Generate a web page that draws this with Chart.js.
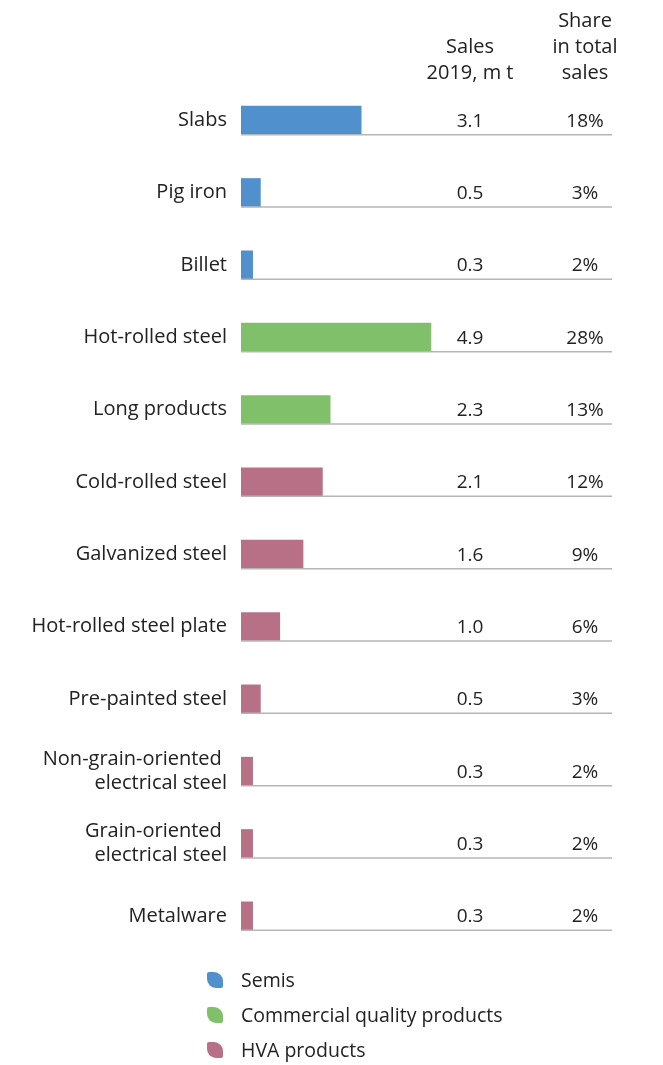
<!DOCTYPE html>
<html>
<head>
<meta charset="utf-8">
<script src="https://cdn.jsdelivr.net/npm/chart.js@4/dist/chart.umd.min.js"></script>
<style>
  body { margin: 0; background: #fff; font-family: "Open Sans", sans-serif; color: #222; }
  #wrap { position: relative; width: 663px; height: 1065px; }
  #chart { position: absolute; left: 0; top: 0; }
  #legend { position: absolute; left: 207px; top: 962px; font-size: 19.5px; }
  .item { height: 35px; display: flex; align-items: center; }
  .mark { width: 16px; height: 16px; border-radius: 2px 9px 2px 9px; margin-right: 18px; }
</style>
</head>
<body>
<div id="wrap">
  <canvas id="chart" width="663" height="978"></canvas>
  <div id="legend"></div>
</div>
<script>
const categories = [
  "Slabs", "Pig iron", "Billet", "Hot-rolled steel", "Long products",
  "Cold-rolled steel", "Galvanized steel", "Hot-rolled steel plate",
  "Pre-painted steel", ["Non-grain-oriented ", "electrical steel"],
  ["Grain-oriented ", "electrical steel"], "Metalware"
];
const sales = [3.1, 0.5, 0.3, 4.9, 2.3, 2.1, 1.6, 1.0, 0.5, 0.3, 0.3, 0.3];
const shares = ["18%", "3%", "2%", "28%", "13%", "12%", "9%", "6%", "3%", "2%", "2%", "2%"];
const groupOf = [0, 0, 0, 1, 1, 2, 2, 2, 2, 2, 2, 2];
const groupNames = ["Semis", "Commercial quality products", "HVA products"];
const groupColors = ["#4f90cd", "#80c06a", "#b87086"];
const salesHeader = ["Sales", "2019, m t"];
const shareHeader = ["Share", "in total", "sales"];

const FONT = '"Open Sans", sans-serif';
const BAR = 28;

// legend
const legend = document.getElementById("legend");
groupNames.forEach((name, i) => {
  const d = document.createElement("div");
  d.className = "item";
  d.innerHTML = '<span class="mark" style="background:' + groupColors[i] + '"></span>' + name;
  legend.appendChild(d);
});

// baseline under each row + value columns + headers
const tablePlugin = {
  id: "table",
  afterDatasetsDraw(chart) {
    const ctx = chart.ctx;
    const area = chart.chartArea;
    const y = chart.scales.y;
    const col1 = 470, col2 = 585;
    ctx.save();
    ctx.strokeStyle = "#b5b5b5";
    ctx.lineWidth = 1.5;
    ctx.fillStyle = "#222";
    ctx.textAlign = "center";
    ctx.textBaseline = "middle";
    ctx.font = "19px " + FONT;
    sales.forEach((v, i) => {
      const yc = y.getPixelForValue(i);
      ctx.beginPath();
      ctx.moveTo(area.left, yc + BAR / 2 + 0.5);
      ctx.lineTo(area.right, yc + BAR / 2 + 0.5);
      ctx.stroke();
      ctx.fillText(v.toFixed(1), col1, yc + 1);
      ctx.fillText(shares[i], col2, yc + 1);
    });
    ctx.font = "20px " + FONT;
    const lh = 26, bottom = 73;
    salesHeader.forEach((t, i) => {
      ctx.fillText(t, col1, bottom - (salesHeader.length - 1 - i) * lh);
    });
    shareHeader.forEach((t, i) => {
      ctx.fillText(t, col2, bottom - (shareHeader.length - 1 - i) * lh);
    });
    ctx.restore();
  }
};

new Chart(document.getElementById("chart"), {
  type: "bar",
  data: {
    labels: categories,
    datasets: [{
      data: sales,
      backgroundColor: groupOf.map(g => groupColors[g]),
      barThickness: BAR,
      borderWidth: 0
    }]
  },
  options: {
    indexAxis: "y",
    responsive: false,
    animation: false,
    layout: { padding: { top: 84, right: 51, bottom: 9, left: 0 } },
    plugins: { legend: { display: false }, tooltip: { enabled: false } },
    scales: {
      x: {
        min: 0, max: 9.57,
        display: false
      },
      y: {
        grid: { display: false, drawTicks: false },
        border: { display: false },
        afterFit(scale) { scale.width = 241; },
        ticks: {
          padding: 14,
          color: "#222",
          font: { family: FONT, size: 20, lineHeight: 1.2 }
        }
      }
    }
  },
  plugins: [tablePlugin]
});
</script>
</body>
</html>
